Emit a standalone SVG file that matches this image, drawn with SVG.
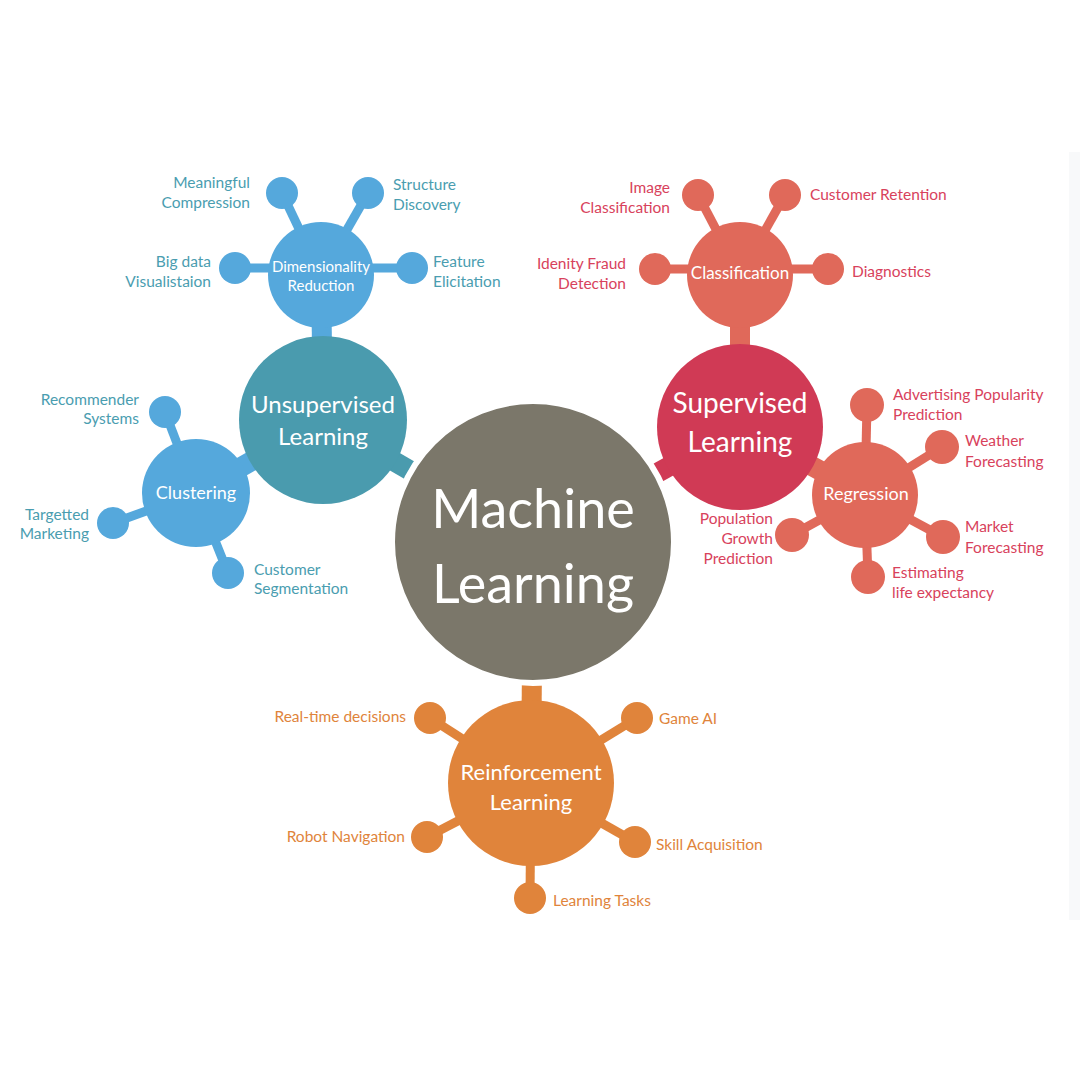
<svg xmlns="http://www.w3.org/2000/svg" width="1080" height="1080" viewBox="0 0 1080 1080">
<style>
text{font-family:Lato,"Open Sans","Liberation Sans",sans-serif}
.w{fill:#fff;text-anchor:middle}
.lb{fill:#4a9db0;font-size:15.5px}
.lr{fill:#d8425c;font-size:15.5px}
.lo{fill:#e0843b;font-size:15.5px}
.e{text-anchor:end}
.cb{stroke:#55a8dc}
.ct{stroke:#4a9bae}
.cs{stroke:#e0695a}
.cr{stroke:#d03a55}
.co{stroke:#e0843b}
#connectors line{stroke-width:9}
#connectors line.big{stroke-width:20}
</style>
<rect x="0" y="0" width="1080" height="1080" fill="#fff"/>
<rect x="1069" y="152" width="11" height="768" fill="#f8f9fa"/>
<g id="connectors">
<line class="big ct" x1="533" y1="542" x2="323" y2="420"/>
<line class="big cr" x1="533" y1="542" x2="740" y2="427"/>
<line class="big co" x1="533" y1="542" x2="531" y2="783"/>
<line class="big cb" x1="323" y1="420" x2="321" y2="275"/>
<line class="big cb" x1="323" y1="420" x2="196" y2="493"/>
<line class="big cs" x1="740" y1="427" x2="740" y2="275"/>
<line class="big cs" x1="740" y1="427" x2="865" y2="495"/>
<line class="cb" x1="321" y1="275" x2="282" y2="193"/>
<line class="cb" x1="321" y1="275" x2="368" y2="193"/>
<line class="cb" x1="321" y1="268" x2="235" y2="268"/>
<line class="cb" x1="321" y1="268" x2="412" y2="268"/>
<line class="cb" x1="196" y1="493" x2="165" y2="412"/>
<line class="cb" x1="196" y1="493" x2="113" y2="523"/>
<line class="cb" x1="196" y1="493" x2="228" y2="573"/>
<line class="cs" x1="740" y1="275" x2="698" y2="195"/>
<line class="cs" x1="740" y1="275" x2="785" y2="195"/>
<line class="cs" x1="740" y1="269" x2="655" y2="269"/>
<line class="cs" x1="740" y1="269" x2="828" y2="269"/>
<line class="cs" x1="865" y1="495" x2="867" y2="405"/>
<line class="cs" x1="865" y1="495" x2="942" y2="447"/>
<line class="cs" x1="865" y1="495" x2="943" y2="537"/>
<line class="cs" x1="865" y1="495" x2="868" y2="577"/>
<line class="cs" x1="865" y1="495" x2="792" y2="535"/>
<line class="co" x1="531" y1="783" x2="430" y2="718"/>
<line class="co" x1="531" y1="783" x2="637" y2="718"/>
<line class="co" x1="531" y1="783" x2="427" y2="837"/>
<line class="co" x1="531" y1="783" x2="635" y2="842"/>
<line class="co" x1="531" y1="783" x2="530" y2="898"/>
</g>
<g id="machine-learning">
<circle cx="533" cy="542" r="141" fill="#7b776a" stroke="#fff" stroke-width="6"/>
<text class="w" x="533" y="528" font-size="54">Machine</text>
<text class="w" x="533" y="603" font-size="54">Learning</text>
</g>
<g id="unsupervised">
<circle cx="323" cy="420" r="84" fill="#4a9bae"/>
<text class="w" x="323" y="413" font-size="24">Unsupervised</text>
<text class="w" x="323" y="445" font-size="24">Learning</text>
</g>
<g id="dimensionality">
<circle cx="321" cy="275" r="53" fill="#55a8dc"/>
<text class="w" x="321" y="272" font-size="15">Dimensionality</text>
<text class="w" x="321" y="291" font-size="15">Reduction</text>
</g>
<g id="dr-meaningful"><circle cx="282" cy="193" r="16" fill="#55a8dc"/><text class="lb e" x="250" y="188">Meaningful</text><text class="lb e" x="250" y="208">Compression</text></g>
<g id="dr-structure"><circle cx="368" cy="193" r="16" fill="#55a8dc"/><text class="lb" x="393" y="190">Structure</text><text class="lb" x="393" y="210">Discovery</text></g>
<g id="dr-bigdata"><circle cx="235" cy="268" r="16" fill="#55a8dc"/><text class="lb e" x="211" y="267">Big data</text><text class="lb e" x="211" y="287">Visualistaion</text></g>
<g id="dr-feature"><circle cx="412" cy="268" r="16" fill="#55a8dc"/><text class="lb" x="433" y="267">Feature</text><text class="lb" x="433" y="287">Elicitation</text></g>
<g id="clustering">
<circle cx="196" cy="493" r="54" fill="#55a8dc"/>
<text class="w" x="196" y="499" font-size="18">Clustering</text>
</g>
<g id="cl-recommender"><circle cx="165" cy="412" r="16" fill="#55a8dc"/><text class="lb e" x="139" y="405">Recommender</text><text class="lb e" x="139" y="424">Systems</text></g>
<g id="cl-targetted"><circle cx="113" cy="523" r="16" fill="#55a8dc"/><text class="lb e" x="89" y="520">Targetted</text><text class="lb e" x="89" y="539">Marketing</text></g>
<g id="cl-customer"><circle cx="228" cy="573" r="16" fill="#55a8dc"/><text class="lb" x="254" y="575">Customer</text><text class="lb" x="254" y="594">Segmentation</text></g>
<g id="supervised">
<circle cx="740" cy="427" r="83" fill="#d03a55"/>
<text class="w" x="740" y="413" font-size="28">Supervised</text>
<text class="w" x="740" y="452" font-size="28">Learning</text>
</g>
<g id="classification">
<circle cx="740" cy="275" r="53" fill="#e0695a"/>
<text class="w" x="740" y="279" font-size="17">Classification</text>
</g>
<g id="cf-image"><circle cx="698" cy="195" r="16" fill="#e0695a"/><text class="lr e" x="670" y="193">Image</text><text class="lr e" x="670" y="213">Classification</text></g>
<g id="cf-retention"><circle cx="785" cy="195" r="16" fill="#e0695a"/><text class="lr" x="810" y="200">Customer Retention</text></g>
<g id="cf-fraud"><circle cx="655" cy="269" r="16" fill="#e0695a"/><text class="lr e" x="626" y="269">Idenity Fraud</text><text class="lr e" x="626" y="289">Detection</text></g>
<g id="cf-diagnostics"><circle cx="828" cy="269" r="16" fill="#e0695a"/><text class="lr" x="852" y="277">Diagnostics</text></g>
<g id="regression">
<circle cx="865" cy="495" r="53" fill="#e0695a"/>
<text class="w" x="866" y="500" font-size="18">Regression</text>
</g>
<g id="rg-advertising"><circle cx="867" cy="405" r="17" fill="#e0695a"/><text class="lr" x="893" y="400">Advertising Popularity</text><text class="lr" x="893" y="420">Prediction</text></g>
<g id="rg-weather"><circle cx="942" cy="447" r="17" fill="#e0695a"/><text class="lr" x="965" y="446">Weather</text><text class="lr" x="965" y="467">Forecasting</text></g>
<g id="rg-market"><circle cx="943" cy="537" r="17" fill="#e0695a"/><text class="lr" x="965" y="532">Market</text><text class="lr" x="965" y="553">Forecasting</text></g>
<g id="rg-estimating"><circle cx="868" cy="577" r="17" fill="#e0695a"/><text class="lr" x="892" y="578">Estimating</text><text class="lr" x="892" y="598">life expectancy</text></g>
<g id="rg-population"><circle cx="792" cy="535" r="17" fill="#e0695a"/><text class="lr e" x="773" y="524">Population</text><text class="lr e" x="773" y="544">Growth</text><text class="lr e" x="773" y="564">Prediction</text></g>
<g id="reinforcement">
<circle cx="531" cy="783" r="83" fill="#e0843b"/>
<text class="w" x="531" y="780" font-size="22">Reinforcement</text>
<text class="w" x="531" y="810" font-size="22">Learning</text>
</g>
<g id="rl-realtime"><circle cx="430" cy="718" r="16" fill="#e0843b"/><text class="lo e" x="406" y="722">Real-time decisions</text></g>
<g id="rl-game"><circle cx="637" cy="718" r="16" fill="#e0843b"/><text class="lo" x="659" y="724">Game AI</text></g>
<g id="rl-robot"><circle cx="427" cy="837" r="16" fill="#e0843b"/><text class="lo e" x="405" y="842">Robot Navigation</text></g>
<g id="rl-skill"><circle cx="635" cy="842" r="16" fill="#e0843b"/><text class="lo" x="656" y="850">Skill Acquisition</text></g>
<g id="rl-tasks"><circle cx="530" cy="898" r="16" fill="#e0843b"/><text class="lo" x="553" y="906">Learning Tasks</text></g>
</svg>
